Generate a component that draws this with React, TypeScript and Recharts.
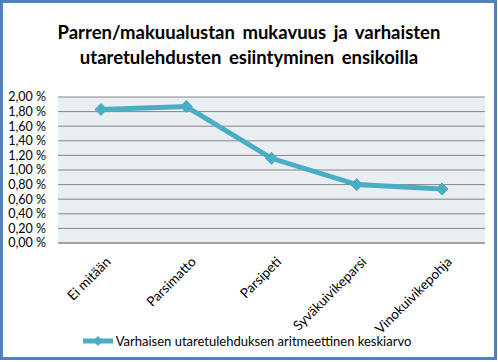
import { LineChart, Line, XAxis, YAxis, CartesianGrid, Legend } from 'recharts';

const categories = ['Ei mitään', 'Parsimatto', 'Parsipeti', 'Syväkuivikeparsi', 'Vinokuivikepohja'];
const averages = [1.83, 1.87, 1.16, 0.8, 0.74];
const yTicks = [0, 0.2, 0.4, 0.6, 0.8, 1.0, 1.2, 1.4, 1.6, 1.8, 2.0];

const seriesName = 'Varhaisen utaretulehduksen aritmeettinen keskiarvo';
const lineColor = '#4BACC6';
const font = 'Lato, "Open Sans", sans-serif';

const data = categories.map((name, i) => ({ name, value: averages[i] }));

const fmt = (v: number) => v.toFixed(2).replace('.', ',') + ' %';

const Diamond = (props: any) => {
  const { cx, cy } = props;
  if (cx == null || cy == null) return null;
  const r = 6;
  return (
    <polygon
      points={`${cx},${cy - r} ${cx + r},${cy} ${cx},${cy + r} ${cx - r},${cy}`}
      fill={lineColor}
      stroke={lineColor}
    />
  );
};

const LegendBox = () => (
  <div style={{ display: 'flex', justifyContent: 'center', alignItems: 'center', height: 20, fontFamily: font, fontSize: 13, color: '#000' }}>
    <svg width={32} height={12} style={{ marginRight: 2 }}>
      <line x1={1} y1={6} x2={31} y2={6} stroke={lineColor} strokeWidth={5} />
      <polygon points="16,1 21,6 16,11 11,6" fill={lineColor} />
    </svg>
    <span>{seriesName}</span>
  </div>
);

const XTick = (props: any) => {
  const { x, y, payload } = props;
  return (
    <text
      x={x + 4}
      y={y + 5}
      transform={`rotate(-45 ${x + 4} ${y + 5})`}
      textAnchor="end"
      fontFamily={font}
      fontSize={13.5}
      fill="#000"
      dy="0.7em"
    >
      {payload.value}
    </text>
  );
};

export default function App() {
  return (
    <div style={{ position: 'absolute', left: 0, top: 0, width: 498, height: 362, background: '#fff' }}>
      <div
        style={{
          position: 'absolute',
          left: 0,
          top: 0,
          width: 497,
          height: 360,
          boxSizing: 'border-box',
          border: '3px solid #4F81BD',
        }}
      />
      <div
        style={{
          position: 'absolute',
          left: 0,
          top: 20,
          width: 498,
          textAlign: 'center',
          fontFamily: font,
          fontWeight: 700,
          fontSize: 18.5,
          lineHeight: '25px',
          wordSpacing: 3,
          color: '#000',
        }}
      >
        Parren/makuualustan mukavuus ja varhaisten
        <br />
        utaretulehdusten esiintyminen ensikoilla
      </div>
      <LineChart width={498} height={362} data={data} margin={{ top: 97, right: 13, left: 8, bottom: 11 }}>
        <CartesianGrid vertical={false} fill="#E9EEF2" stroke="#868686" strokeWidth={1} />
        <XAxis
          dataKey="name"
          axisLine={{ stroke: '#868686' }}
          tickLine={false}
          interval={0}
          height={88}
          padding={{ left: 43, right: 43 }}
          tick={<XTick />}
        />
        <YAxis
          domain={[0, 2]}
          ticks={yTicks}
          interval={0}
          tickFormatter={fmt}
          axisLine={false}
          tickLine={false}
          tickSize={0}
          tickMargin={12}
          width={50}
          tick={{ fontFamily: font, fontSize: 12.5, fill: '#000' }}
        />
        <Legend verticalAlign="bottom" content={<LegendBox />} />
        <Line
          dataKey="value"
          name={seriesName}
          stroke={lineColor}
          strokeWidth={5}
          dot={<Diamond />}
          activeDot={false}
          isAnimationActive={false}
        />
      </LineChart>
    </div>
  );
}
